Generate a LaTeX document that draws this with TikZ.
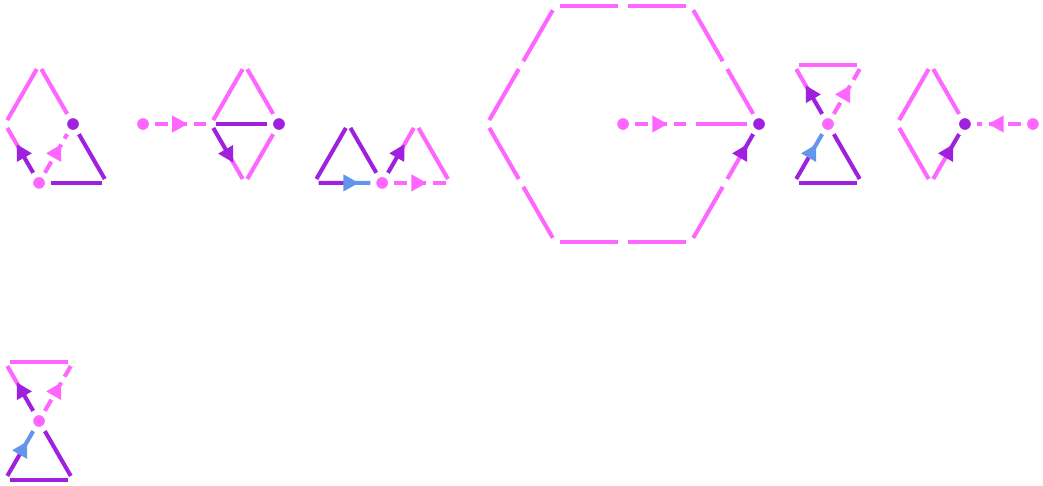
\documentclass[tikz,border=0pt]{standalone}
\usepackage{tikz}
\usetikzlibrary{
    calc,
    decorations.markings
}
\definecolor{lpink}{RGB}{255,102,255}
\definecolor{lpurple}{RGB}{160,32,224}
\definecolor{lblue}{RGB}{100,149,237}
\tikzset{
  dot/.style   = {circle, inner sep=0pt, outer sep=0pt, minimum size=2.1mm,
                  draw=white, line width=1pt},
  ln/.style    = {line width=1.7pt, shorten <=1.9pt, shorten >=1.9pt},
  half/.style  = {shorten >=0pt}
}

\begin{document}
\begin{tikzpicture}[
    pk/.style={ln, lpink},
    pu/.style={ln, lpurple},
    bl/.style={ln, lblue},
    pkd/.style={ln, lpink, dash pattern=on 0.19cm off 0.1cm},
    tipm/.style={decoration={markings, mark=at position 0.5 with
                 {\fill[#1] (4.4pt,0) -- (-2pt,3.6pt) -- (-2pt,-3.6pt) -- cycle;}},
                 postaction={decorate}}
  ]
    \useasboundingbox (0,0) rectangle (15.338,-7.147);

    % loop on the left
    \coordinate (a1) at (0.574,-0.958);
    \coordinate (b1) at (0.074,-1.824);
    \node[dot, fill=lpurple](c1) at (1.074,-1.824) {};
    \node[dot, fill=lpink](e1)   at (0.574,-2.690) {};
    \coordinate (f1) at (1.574,-2.690);
    \draw[pk](a1)--(b1); \draw[pk](a1)--(c1);
    \draw[pk, half](b1)--($(b1)!0.5!(e1)$); \draw[pu, half](e1)--($(e1)!0.5!(b1)$);
    \draw[pkd](e1)--(c1);
    \draw[pu](c1)--(f1); \draw[pu](e1)--(f1);
    \path[tipm=lpurple](e1.center)--(b1);
    \path[tipm=lpink](e1.center)--(c1.center);

    % rhombus with tail
    \node[dot, fill=lpink](p2)   at (2.103,-1.824) {};
    \coordinate (l2) at (3.103,-1.824);
    \coordinate (t2) at (3.603,-0.958);
    \node[dot, fill=lpurple](r2) at (4.103,-1.824) {};
    \coordinate (b2) at (3.603,-2.690);
    \draw[pkd](p2)--(l2);
    \draw[pk](t2)--(l2); \draw[pk](t2)--(r2); \draw[pk](r2)--(b2);
    \draw[pu](l2)--(r2);
    \draw[pu, half](l2)--($(l2)!0.5!(b2)$); \draw[pk, half](b2)--($(b2)!0.5!(l2)$);
    \path[tipm=lpink](p2.center)--(l2);
    \path[tipm=lpurple](l2)--(b2);

    % two triangles
    \coordinate (a3) at (4.62,-2.690);
    \coordinate (b3) at (5.12,-1.824);
    \node[dot, fill=lpink](c3) at (5.62,-2.690) {};
    \coordinate (d3) at (6.12,-1.824);
    \coordinate (e3) at (6.62,-2.690);
    \draw[pu](a3)--(b3); \draw[pu](b3)--(c3);
    \draw[pu, half](a3)--($(a3)!0.5!(c3)$); \draw[bl, half](c3)--($(c3)!0.5!(a3)$);
    \draw[pu, half](c3)--($(c3)!0.5!(d3)$); \draw[pk, half](d3)--($(d3)!0.5!(c3)$);
    \draw[pk](d3)--(e3);
    \draw[pkd](c3)--(e3);
    \path[tipm=lblue](a3)--(c3.center);
    \path[tipm=lpurple](c3.center)--(d3);
    \path[tipm=lpink](c3.center)--(e3);

    % hexagon
    \node[dot, fill=lpink](h0)   at (9.162,-1.824) {};
    \coordinate (q) at (10.162,-1.824);
    \node[dot, fill=lpurple](h1) at (11.162,-1.824) {};
    \coordinate (h2) at (10.162,-0.092);
    \coordinate (h3) at (8.162,-0.092);
    \coordinate (h4) at (7.162,-1.824);
    \coordinate (h5) at (8.162,-3.556);
    \coordinate (h6) at (10.162,-3.556);
    \coordinate (m12) at (10.662,-0.958);
    \coordinate (m23) at (9.162,-0.092);
    \coordinate (m34) at (7.662,-0.958);
    \coordinate (m45) at (7.662,-2.690);
    \coordinate (m56) at (9.162,-3.556);
    \coordinate (m61) at (10.662,-2.690);
    \draw[pkd](h0)--(q); \draw[pk](q)--(h1);
    \draw[pk](h1)--(m12); \draw[pk](m12)--(h2); \draw[pk](h2)--(m23);
    \draw[pk](m23)--(h3); \draw[pk](h3)--(m34); \draw[pk](m34)--(h4);
    \draw[pk](h4)--(m45); \draw[pk](m45)--(h5); \draw[pk](h5)--(m56);
    \draw[pk](m56)--(h6); \draw[pk](h6)--(m61);
    \draw[pu, half](h1)--($(h1)!0.5!(m61)$); \draw[pk, half](m61)--($(m61)!0.5!(h1)$);
    \path[tipm=lpink](h0.center)--(q);
    \path[tipm=lpurple](m61)--(h1.center);

    % hourglass
    \coordinate (tl5) at (11.676,-0.958);
    \coordinate (tr5) at (12.676,-0.958);
    \node[dot, fill=lpink](c5) at (12.176,-1.824) {};
    \coordinate (bl5) at (11.676,-2.690);
    \coordinate (br5) at (12.676,-2.690);
    \draw[pk](tl5)--(tr5);
    \draw[pk, half](tl5)--($(tl5)!0.5!(c5)$); \draw[pu, half](c5)--($(c5)!0.5!(tl5)$);
    \draw[pkd](c5)--(tr5);
    \draw[pu, half](bl5)--($(bl5)!0.5!(c5)$); \draw[bl, half](c5)--($(c5)!0.5!(bl5)$);
    \draw[pu](c5)--(br5); \draw[pu](bl5)--(br5);
    \path[tipm=lpurple](c5.center)--(tl5);
    \path[tipm=lpink](c5.center)--(tr5);
    \path[tipm=lblue](bl5)--(c5.center);

    % rhombus with tail on the right
    \coordinate (l6) at (13.19,-1.824);
    \coordinate (t6) at (13.69,-0.958);
    \node[dot, fill=lpurple](r6) at (14.19,-1.824) {};
    \coordinate (b6) at (13.69,-2.690);
    \node[dot, fill=lpink](p6)   at (15.19,-1.824) {};
    \draw[pk](l6)--(t6); \draw[pk](t6)--(r6); \draw[pk](l6)--(b6);
    \draw[pu, half](r6)--($(r6)!0.5!(b6)$); \draw[pk, half](b6)--($(b6)!0.5!(r6)$);
    \draw[pkd](p6)--(r6);
    \path[tipm=lpurple](b6)--(r6.center);
    \path[tipm=lpink](p6.center)--(r6.center);

    % hourglass, second row
    \coordinate (tl7) at (0.074,-5.325);
    \coordinate (tr7) at (1.074,-5.325);
    \node[dot, fill=lpink](c7) at (0.574,-6.191) {};
    \coordinate (bl7) at (0.074,-7.057);
    \coordinate (br7) at (1.074,-7.057);
    \draw[pk](tl7)--(tr7);
    \draw[pk, half](tl7)--($(tl7)!0.5!(c7)$); \draw[pu, half](c7)--($(c7)!0.5!(tl7)$);
    \draw[pkd](c7)--(tr7);
    \draw[pu, half](bl7)--($(bl7)!0.5!(c7)$); \draw[bl, half](c7)--($(c7)!0.5!(bl7)$);
    \draw[pu](c7)--(br7); \draw[pu](bl7)--(br7);
    \path[tipm=lpurple](c7.center)--(tl7);
    \path[tipm=lpink](c7.center)--(tr7);
    \path[tipm=lblue](bl7)--(c7.center);
  \end{tikzpicture}
\end{document}
